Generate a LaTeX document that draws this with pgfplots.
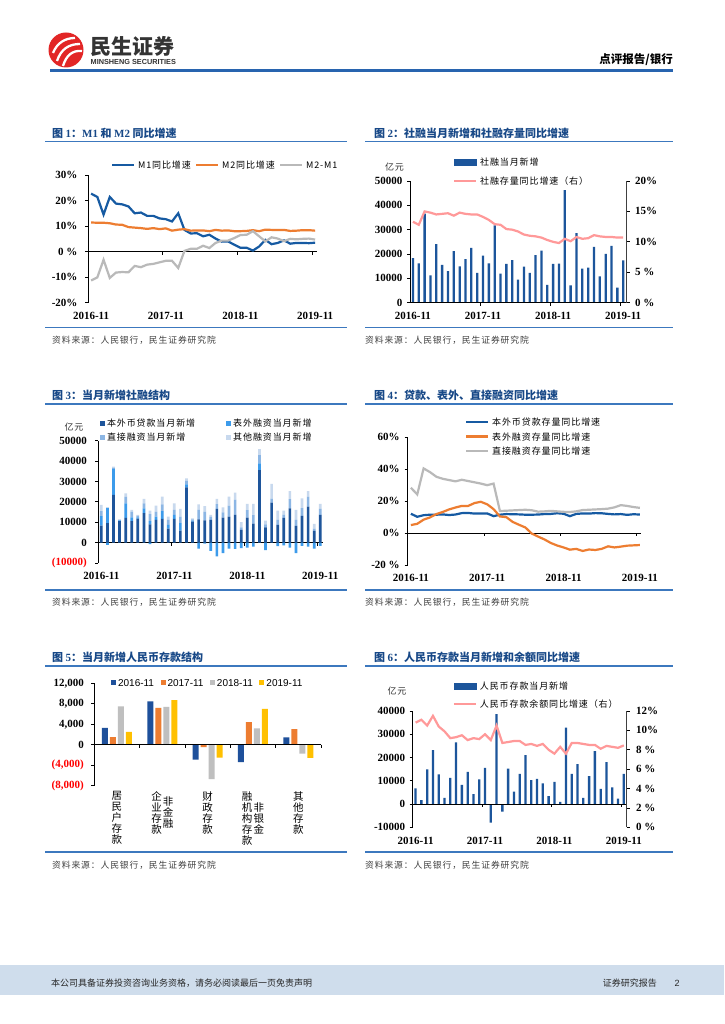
\documentclass[border=0pt]{standalone}
\usepackage{fontspec}
\setmainfont{Liberation Serif}
\newfontfamily\cjk{Noto Sans CJK SC}
\newfontfamily\cjkl[LetterSpace=10]{Noto Sans CJK SC}
\newfontfamily\arial{Liberation Sans}
\usepackage{pgfplots}
\usepackage{pgfplotstable}
\pgfplotsset{compat=1.18}

\definecolor{hdblue}{RGB}{23,72,135}
\definecolor{secline}{RGB}{60,120,190}
\definecolor{topline}{RGB}{40,100,175}
\definecolor{dblue}{RGB}{22,90,162}
\definecolor{barblue}{RGB}{28,85,155}
\definecolor{orng}{RGB}{237,125,49}
\definecolor{gry}{RGB}{185,185,185}
\definecolor{pinkl}{RGB}{255,153,153}
\definecolor{c3a}{RGB}{30,85,155}
\definecolor{c3b}{RGB}{60,155,235}
\definecolor{c3c}{RGB}{140,182,228}
\definecolor{c3d}{RGB}{200,217,238}
\definecolor{yel}{RGB}{255,192,0}
\definecolor{c5blue}{RGB}{30,80,155}
\definecolor{c5gray}{RGB}{191,191,191}
\definecolor{footbg}{RGB}{207,221,236}
\definecolor{logored}{RGB}{226,38,38}

\newcommand\tickfont{\fontsize{11}{12}\selectfont\bfseries}
\newcommand\legfont{\cjkl\fontsize{9}{10}\selectfont}
\newcommand\srcfont{\cjkl\fontsize{8.8}{10}\selectfont}
\newcommand\hdfont{\cjk\bfseries\fontsize{11}{13}\selectfont}
\newcommand\catfont{\cjk\fontsize{10.5}{11}\selectfont}

\tikzset{zl/.style={black, line width=0.8pt}}
\pgfplotsset{
  legbase/.style={legend cell align=left,
    legend style={draw=none, fill=none, inner sep=0pt, outer sep=0pt, font=\legfont,
      nodes={inner sep=0pt, text height=8pt, text depth=1pt},
      /tikz/every odd column/.append style={column sep=3pt}}},
  ts/.style={scale only axis, clip=false, anchor=south west,
    axis y line*=left, axis x line*=bottom,
    x axis line style={draw=none}, xtick style={draw=none},
    y axis line style={line width=0.8pt, black},
    ytick style={line width=0.8pt, black},
    tick align=outside, major tick length=3pt, scaled y ticks=false,
    tick label style={font=\tickfont},
    xmin=-0.5, xtick={0,12,24,36},
    xticklabels={2016-11,2017-11,2018-11,2019-11},
    xticklabel style={yshift=-3pt}, legbase},
  rax/.style={scale only axis, clip=false, anchor=south west,
    axis y line*=right, axis x line=none, xmin=-0.5,
    y axis line style={line width=1.2pt, black!75},
    ytick style={line width=0.8pt, black},
    tick align=outside, major tick length=3pt, scaled y ticks=false,
    tick label style={font=\tickfont}, legbase},
  lineleg/.style={legend image code/.code={\draw[##1, line width=2.2pt] (0pt,0pt) -- (22pt,0pt);}},
  sq/.style={legend image code/.code={\fill[##1] (0pt,-2.5pt) rectangle (5pt,2.5pt);}},
}

% figure 1: M1, M2, M2-M1 (%)
\pgfplotstableread[row sep=\\]{
i m1 m2 d\\
0 22.7 11.4 -11.3\\ 1 21.4 11.3 -10.1\\ 2 14.5 11.3 -3.2\\ 3 21.4 11.1 -10.3\\
4 18.8 10.6 -8.2\\ 5 18.5 10.5 -8.0\\ 6 17.7 9.6 -8.1\\ 7 15.0 9.4 -5.6\\
8 15.3 9.2 -6.1\\ 9 14.0 8.9 -5.1\\ 10 14.0 9.2 -4.8\\ 11 13.0 8.8 -4.2\\
12 12.7 9.1 -3.6\\ 13 11.8 8.2 -3.6\\ 14 15.0 8.6 -6.4\\ 15 8.5 8.8 0.3\\
16 7.1 8.2 1.1\\ 17 7.2 8.3 1.1\\ 18 6.0 8.3 2.3\\ 19 6.6 8.0 1.4\\
20 5.1 8.5 3.4\\ 21 3.9 8.2 4.3\\ 22 4.0 8.3 4.3\\ 23 2.7 8.0 5.3\\
24 1.5 8.0 6.5\\ 25 1.5 8.1 6.6\\ 26 0.4 8.4 8.0\\ 27 2.0 8.0 6.0\\
28 4.6 8.6 4.0\\ 29 2.9 8.5 5.6\\ 30 3.4 8.5 5.1\\ 31 4.4 8.5 4.1\\
32 3.1 8.1 5.0\\ 33 3.4 8.2 4.8\\ 34 3.4 8.4 5.0\\ 35 3.3 8.4 5.1\\
36 3.5 8.2 4.7\\
}\tA

% figure 2: TSF monthly (100m yuan), TSF stock growth (%)
\pgfplotstableread[row sep=\\]{
i v g\\
0 18300 13.3\\ 1 16200 12.8\\ 2 36600 15.0\\ 3 11200 14.8\\ 4 24100 14.5\\
5 15500 14.6\\ 6 13000 14.7\\ 7 21200 14.3\\ 8 14900 14.8\\ 9 17900 14.6\\
10 22500 14.5\\ 11 12200 14.5\\ 12 19300 14.1\\ 13 16200 13.6\\ 14 31800 12.9\\
15 11900 12.8\\ 16 15900 12.1\\ 17 17500 12.0\\ 18 9500 11.7\\ 19 14800 11.2\\
20 12200 11.0\\ 21 19500 10.9\\ 22 21400 10.7\\ 23 7300 10.3\\ 24 15900 10.0\\
25 16000 9.8\\ 26 46200 10.5\\ 27 7100 10.1\\ 28 28600 10.8\\ 29 14000 10.5\\
30 14400 10.6\\ 31 22900 11.1\\ 32 10800 10.9\\ 33 20100 10.8\\ 34 23300 10.8\\
35 6200 10.7\\ 36 17400 10.7\\
}\tB

% figure 3: TSF structure; N = negative off-balance part
\pgfplotstableread[row sep=\\]{
i L B D O N\\
0 8300 4700 2500 3000 0\\ 1 9600 7500 0 200 -1100\\ 2 23400 12800 600 500 0\\
3 10600 300 200 300 0\\ 4 12100 7100 3200 1800 0\\ 5 10600 1800 2800 800 0\\
6 11800 600 700 500 0\\ 7 14500 2300 2400 2200 0\\ 8 9000 1500 3500 1700 -800\\
9 11100 1600 2400 3000 0\\ 10 11600 3900 3300 3700 0\\ 11 6900 1800 2500 1500 0\\
12 11600 2000 2400 3300 0\\ 13 5900 3600 3300 3700 0\\ 14 27100 1500 1800 1100 0\\
15 10300 500 600 500 0\\ 16 11400 0 4600 2800 -2900\\ 17 10900 0 4200 2800 -500\\
18 11100 0 1500 1000 -4100\\ 19 16500 0 2400 2600 -6700\\ 20 12300 0 2500 2500 -5100\\
21 12700 0 5500 4300 -3000\\ 22 13600 0 7500 3400 -3100\\ 23 6200 0 1300 2500 -2700\\
24 12300 0 3600 3100 -2500\\ 25 9300 0 4200 5500 -2000\\ 26 35600 3300 4000 3000 0\\
27 7500 0 1500 1800 -3700\\ 28 19600 0 2000 7200 0\\ 29 8700 0 2500 4500 -1700\\
30 12100 0 1600 2000 -1300\\ 31 16800 0 4500 4000 -2400\\ 32 8200 0 3000 4800 -5200\\
33 13100 0 3800 4800 -1600\\ 34 17600 0 4800 2900 -2000\\ 35 5700 0 1200 2300 -3000\\
36 13600 0 3000 2400 -1600\\
}\tC

% figure 4: loans, off-balance, direct financing growth (%)
\pgfplotstableread[row sep=\\]{
i L B D\\
0 12.1 5.0 28.4\\ 1 10.2 5.8 24.2\\ 2 11.2 8.4 40.5\\ 3 11.5 9.8 38.2\\
4 11.5 11.9 35.3\\ 5 11.7 13.2 34.0\\ 6 11.3 14.8 33.2\\ 7 11.6 16.0 32.4\\
8 12.5 17.0 33.4\\ 9 12.6 17.0 32.6\\ 10 12.2 18.8 31.8\\ 11 12.2 19.6 31.0\\
12 12.3 18.0 30.0\\ 13 10.6 15.0 31.0\\ 14 11.5 10.4 13.8\\ 15 11.9 10.0 14.0\\
16 11.8 7.0 14.2\\ 17 11.7 5.2 14.4\\ 18 11.5 3.5 14.6\\ 19 11.5 -0.3 14.3\\
20 11.6 -2.2 13.4\\ 21 11.9 -4.0 13.6\\ 22 12.0 -6.2 13.9\\ 23 12.4 -7.8 13.6\\
24 12.1 -9.0 13.3\\ 25 10.6 -10.4 13.2\\ 26 12.0 -9.9 13.6\\ 27 12.3 -11.2 14.4\\
28 12.2 -10.3 14.6\\ 29 12.5 -10.6 14.8\\ 30 12.4 -9.9 15.0\\ 31 12.0 -8.3 15.3\\
32 11.7 -9.0 16.1\\ 33 11.9 -8.5 17.5\\ 34 11.4 -7.9 17.0\\ 35 11.8 -7.7 16.3\\
36 11.6 -7.5 15.8\\
}\tD

% figure 6: RMB deposits monthly (100m yuan), balance growth (%)
\pgfplotstableread[row sep=\\]{
i v g\\
0 6700 10.8\\ 1 1700 11.1\\ 2 14900 10.5\\ 3 23200 11.5\\ 4 12800 10.4\\
5 2600 9.9\\ 6 11200 9.2\\ 7 26500 9.3\\ 8 8200 9.5\\ 9 13800 9.0\\
10 4300 9.2\\ 11 10600 9.1\\ 12 15600 9.6\\ 13 -8000 9.0\\ 14 38700 10.5\\
15 -3300 8.7\\ 16 15200 8.8\\ 17 5300 8.9\\ 18 13000 8.9\\ 19 21000 8.5\\
20 10300 8.6\\ 21 10800 8.4\\ 22 8900 8.6\\ 23 3400 8.0\\ 24 9500 7.6\\
25 900 8.3\\ 26 32800 7.6\\ 27 13000 8.7\\ 28 17200 8.7\\ 29 2600 8.6\\
30 12000 8.5\\ 31 22800 8.5\\ 32 6500 8.1\\ 33 18000 8.4\\ 34 7200 8.3\\
35 2300 8.2\\ 36 13000 8.45\\
}\tF

\begin{document}
\begin{tikzpicture}
\path[use as bounding box, fill=white] (0pt,0pt) rectangle (724pt,1024pt);

% ---- header
\fill[logored] (66pt,974pt) circle (17.5pt);
\draw[white, line width=2.3pt] (53pt,971pt) .. controls (57pt,981pt) and (65pt,986pt) .. (75pt,986pt);
\draw[white, line width=2.3pt] (57pt,963pt) .. controls (61pt,975pt) and (69pt,980pt) .. (80pt,980pt);
\draw[white, line width=2.3pt] (63pt,958pt) .. controls (66pt,968pt) and (72pt,974pt) .. (82pt,973pt);
\node[anchor=west, inner sep=0pt, font=\cjk\bfseries\fontsize{21}{21}\selectfont, text=black!80] at (90pt,977pt) {民生证券};
\node[anchor=west, inner sep=0pt, font=\arial\bfseries\fontsize{7.3}{8}\selectfont, text=black!80] at (90.5pt,961.5pt) {MINSHENG SECURITIES};
\node[anchor=east, inner sep=0pt, font=\cjk\bfseries\fontsize{11.5}{12}\selectfont] at (673pt,964pt) {点评报告/银行};
\draw[topline, line width=2.6pt] (50pt,953.3pt) -- (673pt,953.3pt);

% ---- section frames
\foreach \yt/\yb in {882.3/696.7, 620/434, 358/172} {
  \draw[secline, line width=1.3pt] (45pt,\yt pt) -- (346.7pt,\yt pt);
  \draw[secline, line width=1.3pt] (365pt,\yt pt) -- (673.3pt,\yt pt);
  \draw[secline, line width=1.3pt] (45pt,\yb pt) -- (346.7pt,\yb pt);
  \draw[secline, line width=1.3pt] (365pt,\yb pt) -- (673.3pt,\yb pt);
}
\node[anchor=west, inner sep=0pt, font=\hdfont, text=hdblue] at (52pt,890.7pt) {图 {\rmfamily 1}：{\rmfamily M1} 和 {\rmfamily M2} 同比增速};
\node[anchor=west, inner sep=0pt, font=\hdfont, text=hdblue] at (374pt,890.7pt) {图 {\rmfamily 2}：社融当月新增和社融存量同比增速};
\node[anchor=west, inner sep=0pt, font=\hdfont, text=hdblue] at (52pt,629pt) {图 {\rmfamily 3}：当月新增社融结构};
\node[anchor=west, inner sep=0pt, font=\hdfont, text=hdblue] at (374pt,629pt) {图 {\rmfamily 4}：贷款、表外、直接融资同比增速};
\node[anchor=west, inner sep=0pt, font=\hdfont, text=hdblue] at (52pt,366.7pt) {图 {\rmfamily 5}：当月新增人民币存款结构};
\node[anchor=west, inner sep=0pt, font=\hdfont, text=hdblue] at (374pt,366.7pt) {图 {\rmfamily 6}：人民币存款当月新增和余额同比增速};
\foreach \xs in {52,365} {
  \foreach \ys in {683.3,421.3,158.3} {
    \node[anchor=west, inner sep=0pt, font=\srcfont, text=black!75] at (\xs pt,\ys pt) {资料来源：人民银行，民生证券研究院};
  }
}
\node[font=\legfont, text=black!80] at (394.5pt,857.3pt) {亿元};
\node[font=\legfont, text=black!80] at (74pt,597.3pt) {亿元};
\node[font=\legfont, text=black!80] at (397pt,333.3pt) {亿元};

% ---- footer
\fill[footbg] (0pt,29pt) rectangle (724pt,59pt);
\node[anchor=west, inner sep=0pt, font=\cjk\fontsize{9}{10}\selectfont, text=black!85] at (51pt,41pt) {本公司具备证券投资咨询业务资格，请务必阅读最后一页免责声明};
\node[anchor=east, inner sep=0pt, font=\cjk\fontsize{9}{10}\selectfont, text=black!85] at (657pt,41pt) {证券研究报告};
\node[inner sep=0pt, font=\arial\fontsize{9}{10}\selectfont, text=black!85] at (677pt,41pt) {2};

% ---- figure 1
\begin{axis}[ts, at={(88pt,721.3pt)}, width=229pt, height=127.7pt, xmax=36.3,
  ymin=-20, ymax=30, ytick={-20,-10,0,10,20,30},
  yticklabels={-20\%,-10\%,0 \%,10\%,20\%,30\%}, yticklabel style={xshift=-4pt},
  lineleg, legend columns=3,
  legend style={at={(0.1,1.078)}, anchor=west,
    /tikz/every even column/.append style={column sep=4pt}}]
\draw[zl] (axis cs:-0.5,0) -- (axis cs:36.3,0);
\pgfplotsinvokeforeach{11.5,23.5,35.5}{\draw[zl] (axis cs:#1,0) -- ++(0pt,-3pt);}
\addplot[dblue, line width=2.2pt] table[x=i,y=m1]{\tA}; \addlegendentry{M1同比增速}
\addplot[orng, line width=2.2pt] table[x=i,y=m2]{\tA}; \addlegendentry{M2同比增速}
\addplot[gry, line width=2.2pt] table[x=i,y=d]{\tA}; \addlegendentry{M2-M1}
\end{axis}

% ---- figure 2
\begin{axis}[ts, at={(410pt,721.3pt)}, width=216.7pt, height=121.7pt, xmax=36.6,
  ymin=0, ymax=50000, ytick={0,10000,...,50000},
  yticklabels={0,10000,20000,30000,40000,50000}, yticklabel style={xshift=-1pt},
  ybar, bar width=2.3pt]
\addplot[fill=barblue, draw=none] table[x=i,y=v]{\tB};
\draw[zl] (axis cs:-0.5,0) -- (axis cs:36.6,0);
\pgfplotsinvokeforeach{11.5,23.5,35.5}{\draw[zl] (axis cs:#1,0) -- ++(0pt,-3pt);}
\end{axis}
\begin{axis}[rax, at={(410pt,721.3pt)}, width=216.7pt, height=121.7pt, xmax=36.6,
  ymin=0, ymax=20, ytick={0,5,10,15,20}, yticklabels={0 \%,5 \%,10\%,15\%,20\%},
  yticklabel style={xshift=2pt}, lineleg,
  legend style={at={(0.198,1.078)}, anchor=west, row sep=10pt}]
\addlegendimage{legend image code/.code={\fill[barblue] (0pt,-3pt) rectangle (22pt,3pt);}}
\addlegendentry{社融当月新增}
\addplot[pinkl, line width=2.2pt] table[x=i,y=g]{\tB}; \addlegendentry{社融存量同比增速（右）}
\end{axis}

% ---- figure 3
\begin{axis}[ts, at={(98.3pt,461pt)}, width=224.4pt, height=122.3pt, xmax=36.4,
  ymin=-10000, ymax=50000, ytick={-10000,0,...,50000},
  yticklabels={\textcolor{red}{(10000)},0,10000,20000,30000,40000,50000},
  yticklabel style={xshift=-5pt},
  ybar stacked, bar width=2.7pt, legend columns=2,
  legend style={at={(0.0076,1.087)}, anchor=west, row sep=5pt,
    /tikz/every odd column/.append style={column sep=2pt},
    /tikz/every even column/.append style={column sep=31pt}}]
\addplot[fill=c3a, draw=none, sq] table[x=i,y=L]{\tC}; \addlegendentry{本外币贷款当月新增}
\addplot[fill=c3b, draw=none, sq] table[x=i,y=B]{\tC}; \addlegendentry{表外融资当月新增}
\addplot[fill=c3c, draw=none, sq] table[x=i,y=D]{\tC}; \addlegendentry{直接融资当月新增}
\addplot[fill=c3d, draw=none, sq] table[x=i,y=O]{\tC}; \addlegendentry{其他融资当月新增}
\draw[zl] (axis cs:-0.5,0) -- (axis cs:36.4,0);
\pgfplotsinvokeforeach{11.5,23.5,35.5}{\draw[zl] (axis cs:#1,0) -- ++(0pt,-3pt);}
\end{axis}
\begin{axis}[scale only axis, clip=false, hide axis, anchor=south west,
  at={(98.3pt,461pt)}, width=224.4pt, height=122.3pt,
  xmin=-0.5, xmax=36.4, ymin=-10000, ymax=50000, ybar, bar width=2.7pt]
\addplot[fill=c3b, draw=none] table[x=i,y=N]{\tC};
\end{axis}

% ---- figure 4
\begin{axis}[ts, at={(407.7pt,459pt)}, width=232.8pt, height=127.7pt, xmax=36.1,
  ymin=-20, ymax=60, ytick={-20,0,20,40,60},
  yticklabels={-20 \%,0\%,20\%,40\%,60\%}, yticklabel style={xshift=-1.5pt},
  lineleg, legend style={at={(0.246,1.006)}, anchor=west, row sep=5.7pt}]
\draw[zl] (axis cs:-0.5,0) -- (axis cs:36.1,0);
\pgfplotsinvokeforeach{11.5,23.5,35.5}{\draw[zl] (axis cs:#1,0) -- ++(0pt,-3pt);}
\addplot[dblue, line width=2.2pt] table[x=i,y=L]{\tD}; \addlegendentry{本外币贷款存量同比增速}
\addplot[orng, line width=2.2pt] table[x=i,y=B]{\tD}; \addlegendentry{表外融资存量同比增速}
\addplot[gry, line width=2.2pt] table[x=i,y=D]{\tD}; \addlegendentry{直接融资存量同比增速}
\end{axis}

% ---- figure 5
\begin{axis}[scale only axis, clip=false, anchor=south west,
  at={(94.3pt,238.3pt)}, width=226.7pt, height=102.4pt,
  xmin=-0.5, xmax=4.5, ymin=-8000, ymax=12000,
  axis y line*=left, axis x line*=bottom, x axis line style={draw=none},
  xtick=\empty, y axis line style={line width=0.8pt, black},
  ytick style={line width=0.8pt, black}, tick align=outside, major tick length=3pt,
  scaled y ticks=false, tick label style={font=\tickfont},
  ytick={-8000,-4000,0,4000,8000,12000},
  yticklabels={\textcolor{red}{(8,000)},\textcolor{red}{(4,000)},0,{4,000},{8,000},{12,000}},
  yticklabel style={xshift=-4pt},
  ybar=2pt, bar width=6pt, legbase, legend columns=4,
  legend style={at={(0.074,1.003)}, anchor=west, font=\arial\fontsize{10}{11}\selectfont,
    /tikz/every odd column/.append style={column sep=2pt},
    /tikz/every even column/.append style={column sep=6.5pt}}]
\addplot[fill=c5blue, draw=none, sq] coordinates {(0,3300) (1,8450) (2,-2900) (3,-3400) (4,1450)};
\addlegendentry{2016-11}
\addplot[fill=orng, draw=none, sq] coordinates {(0,1500) (1,7200) (2,-450) (3,4400) (4,3050)};
\addlegendentry{2017-11}
\addplot[fill=c5gray, draw=none, sq] coordinates {(0,7500) (1,7400) (2,-6700) (3,3200) (4,-1750)};
\addlegendentry{2018-11}
\addplot[fill=yel, draw=none, sq] coordinates {(0,2500) (1,8700) (2,-2500) (3,7000) (4,-2550)};
\addlegendentry{2019-11}
\draw[zl] (axis cs:-0.5,0) -- (axis cs:4.5,0);
\pgfplotsinvokeforeach{0.5,1.5,2.5,3.5,4.5}{\draw[zl] (axis cs:#1,0) -- ++(0pt,-3.5pt);}
\node[anchor=north, align=center, inner sep=0pt, font=\catfont]
  at (axis cs:0,-8000) [yshift=-5.5pt] {居\\民\\户\\存\\款};
\node (c1) [anchor=north, align=center, inner sep=0pt, font=\catfont]
  at (axis cs:1,-8000) [yshift=-5.5pt, xshift=-5.8pt] {企\\业\\存\\款};
\node[anchor=center, align=center, inner sep=0pt, font=\catfont]
  at ([xshift=11.6pt]c1.center) {非\\金\\融};
\node[anchor=north, align=center, inner sep=0pt, font=\catfont]
  at (axis cs:2,-8000) [yshift=-5.5pt] {财\\政\\存\\款};
\node (c3) [anchor=north, align=center, inner sep=0pt, font=\catfont]
  at (axis cs:3,-8000) [yshift=-5.5pt, xshift=-5.8pt] {融\\机\\构\\存\\款};
\node[anchor=center, align=center, inner sep=0pt, font=\catfont]
  at ([xshift=11.6pt]c3.center) {非\\银\\金};
\node[anchor=north, align=center, inner sep=0pt, font=\catfont]
  at (axis cs:4,-8000) [yshift=-5.5pt] {其\\他\\存\\款};
\end{axis}

% ---- figure 6
\begin{axis}[ts, at={(412.7pt,196.7pt)}, width=214pt, height=116.3pt, xmax=36.5,
  ymin=-10000, ymax=40000, ytick={-10000,0,...,40000},
  yticklabels={-10000,0,10000,20000,30000,40000}, yticklabel style={xshift=-1pt},
  ybar, bar width=2.3pt]
\addplot[fill=barblue, draw=none] table[x=i,y=v]{\tF};
\draw[zl] (axis cs:-0.5,0) -- (axis cs:36.5,0);
\pgfplotsinvokeforeach{11.5,23.5,35.5}{\draw[zl] (axis cs:#1,0) -- ++(0pt,-3pt);}
\end{axis}
\begin{axis}[rax, at={(412.7pt,196.7pt)}, width=214pt, height=116.3pt, xmax=36.5,
  ymin=0, ymax=12, ytick={0,2,...,12},
  yticklabels={0 \%,2 \%,4 \%,6 \%,8 \%,10\%,12\%},
  yticklabel style={xshift=3pt}, lineleg,
  legend style={at={(0.187,1.136)}, anchor=west, row sep=9.3pt}]
\addlegendimage{legend image code/.code={\fill[barblue] (0pt,-3pt) rectangle (22pt,3pt);}}
\addlegendentry{人民币存款当月新增}
\addplot[pinkl, line width=2.2pt] table[x=i,y=g]{\tF}; \addlegendentry{人民币存款余额同比增速（右）}
\end{axis}
\end{tikzpicture}
\end{document}
